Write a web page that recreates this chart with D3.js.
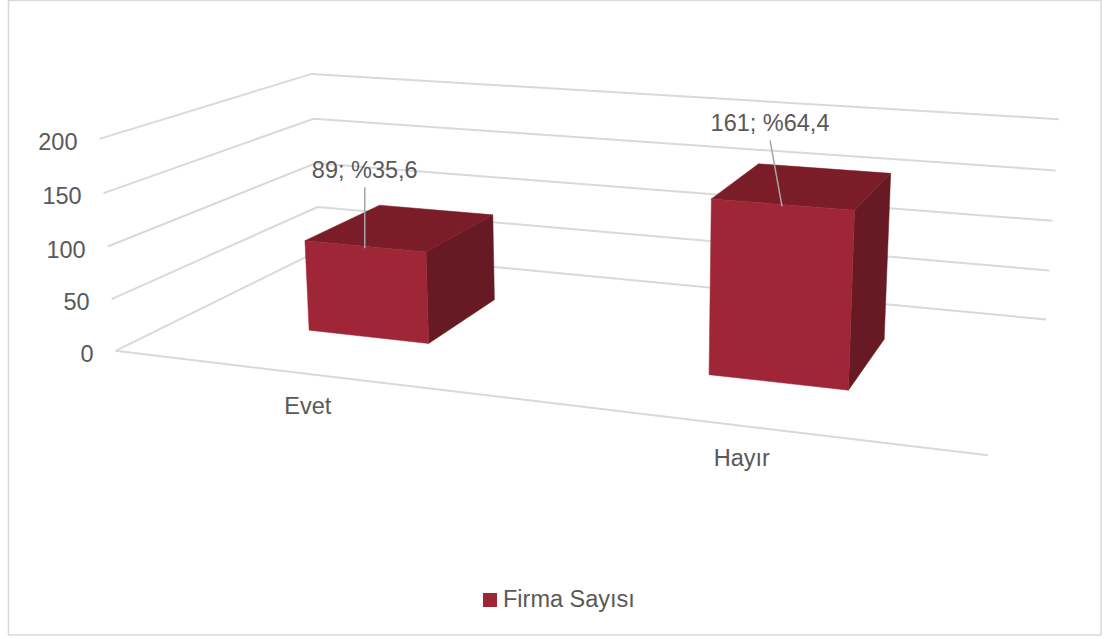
<!DOCTYPE html>
<html>
<head>
<meta charset="utf-8">
<script src="https://cdn.jsdelivr.net/npm/d3@7"></script>
<style>
  html, body { margin: 0; padding: 0; background: #fff; }
  svg { display: block; font-family: "Liberation Sans", Arial, sans-serif; }
</style>
</head>
<body>
<svg id="chart" width="1119" height="639"></svg>
<script>
// ---- data ----
const categories  = ["Evet", "Hayır"];
const firmCounts  = [89, 161];
const percentages = [35.6, 64.4];
const yTicks      = [0, 50, 100, 150, 200];
const seriesName  = "Firma Sayısı";

// ---- layout / style ----
const W = 1119, H = 639;
const colors = { front: "#9e2636", top: "#7a1d29", side: "#671a23" };
const gridColor = "#d9d9d9";
const textColor = "#595959";
const fontSize = 23.5;

// screen position of the plot box corners (world X 0..1, value 0..200, depth Z 0..1)
const boxCorners = [
  { w: [0, 0,   0], s: [115, 351] },
  { w: [0, 200, 0], s: [100, 139] },
  { w: [0, 0,   1], s: [320, 250] },
  { w: [0, 200, 1], s: [311,  74] },
  { w: [1, 0,   1], s: [1046, 320] },
  { w: [1, 200, 1], s: [1059, 119] },
  { w: [1, 0,   0], s: [988, 455] }
];
const barWidthFrac = 0.315;     // share of category step taken by a bar
const barDepth = [0.3, 0.7];    // depth extent of the bars
const labelShift = [[0, -68], [-12, -73]];

// ---- scales ----
const y = d3.scaleLinear().domain([0, 200]).range([0, 1]);
const x = d3.scalePoint().domain(categories).range([0, 1]).padding(0.5);

// ---- perspective camera fitted to the box corners (DLT, least squares) ----
function fitCamera(pairs) {
  const rows = [], rhs = [];
  pairs.forEach(({ w, s }) => {
    const X = w[0], Y = y(w[1]), Z = w[2];
    const u = s[0] / 1000, v = s[1] / 1000;
    rows.push([X, Y, Z, 1, 0, 0, 0, 0, -u * X, -u * Y, -u * Z]); rhs.push(u);
    rows.push([0, 0, 0, 0, X, Y, Z, 1, -v * X, -v * Y, -v * Z]); rhs.push(v);
  });
  const n = 11;
  const A = d3.range(n).map(i => d3.range(n).map(j => d3.sum(rows, r => r[i] * r[j])));
  const b = d3.range(n).map(i => d3.sum(rows, (r, k) => r[i] * rhs[k]));
  for (let c = 0; c < n; c++) {
    let p = c;
    for (let r = c + 1; r < n; r++) if (Math.abs(A[r][c]) > Math.abs(A[p][c])) p = r;
    [A[c], A[p]] = [A[p], A[c]]; [b[c], b[p]] = [b[p], b[c]];
    for (let r = 0; r < n; r++) {
      if (r === c) continue;
      const f = A[r][c] / A[c][c];
      for (let k = c; k < n; k++) A[r][k] -= f * A[c][k];
      b[r] -= f * b[c];
    }
  }
  const p = b.map((v, i) => v / A[i][i]);
  return (X, V, Z) => {
    const Y = y(V);
    const w = p[8] * X + p[9] * Y + p[10] * Z + 1;
    return [1000 * (p[0] * X + p[1] * Y + p[2] * Z + p[3]) / w,
            1000 * (p[4] * X + p[5] * Y + p[6] * Z + p[7]) / w];
  };
}
const proj = fitCamera(boxCorners);

const svg = d3.select("#chart");
const line = d3.line();

// chart frame
svg.append("rect")
  .attr("x", 8.5).attr("y", 0.5).attr("width", 1092.5).attr("height", 634.5)
  .attr("fill", "#fff").attr("stroke", gridColor).attr("stroke-width", 1.5);

// gridlines on side wall and back wall
const grid = svg.append("g").attr("fill", "none").attr("stroke", gridColor).attr("stroke-width", 2);
yTicks.forEach(v => {
  grid.append("path").attr("d", line([proj(0, v, 0), proj(0, v, 1), proj(1, v, 1)]));
});
// front edge of the floor (category axis)
grid.append("path").attr("d", line([proj(0, 0, 0), proj(1, 0, 0)]));

// value axis labels
svg.append("g").selectAll("text").data(yTicks).join("text")
  .attr("x", d => proj(0, d, 0)[0] - 22)
  .attr("y", d => proj(0, d, 0)[1] + 3)
  .attr("dy", "0.35em")
  .attr("text-anchor", "end")
  .attr("fill", textColor).attr("font-size", fontSize)
  .text(d => d);

// category labels
svg.append("g").selectAll("text").data(categories).join("text")
  .attr("x", d => proj(x(d), 0, 0)[0])
  .attr("y", d => proj(x(d), 0, 0)[1] + 40)
  .attr("text-anchor", "middle")
  .attr("fill", textColor).attr("font-size", fontSize)
  .text(d => d);

// 3-D columns
const half = x.step() * barWidthFrac / 2;
const bars = svg.append("g");
categories.forEach((c, i) => {
  const v = firmCounts[i];
  const x0 = x(c) - half, x1 = x(c) + half;
  const [z0, z1] = barDepth;
  const g = bars.append("g");
  const face = (pts, fill) => g.append("path")
    .attr("d", line(pts.map(p => proj(...p))) + "Z")
    .attr("fill", fill).attr("stroke", fill).attr("stroke-width", 0.5).attr("stroke-linejoin", "round");
  face([[x1, 0, z0], [x1, 0, z1], [x1, v, z1], [x1, v, z0]], colors.side);
  face([[x0, v, z0], [x1, v, z0], [x1, v, z1], [x0, v, z1]], colors.top);
  face([[x0, 0, z0], [x1, 0, z0], [x1, v, z0], [x0, v, z0]], colors.front);
});

// data labels with leader lines
const labels = svg.append("g");
categories.forEach((c, i) => {
  const anchor = proj(x(c), firmCounts[i], barDepth[0]);
  const lx = anchor[0] + labelShift[i][0];
  const ly = anchor[1] + labelShift[i][1];
  labels.append("line")
    .attr("x1", lx).attr("y1", ly + 9)
    .attr("x2", anchor[0]).attr("y2", anchor[1] + 2)
    .attr("stroke", "#a6a6a6").attr("stroke-width", 1.5);
  labels.append("text")
    .attr("x", lx).attr("y", ly)
    .attr("text-anchor", "middle")
    .attr("fill", textColor).attr("font-size", fontSize)
    .text(`${firmCounts[i]}; %${percentages[i].toFixed(1).replace(".", ",")}`);
});

// legend
const legend = svg.append("g").attr("transform", "translate(483,593)");
legend.append("rect").attr("width", 14).attr("height", 14).attr("fill", colors.front);
legend.append("text").attr("x", 20).attr("y", 14)
  .attr("fill", textColor).attr("font-size", fontSize).text(seriesName);
</script>
</body>
</html>
